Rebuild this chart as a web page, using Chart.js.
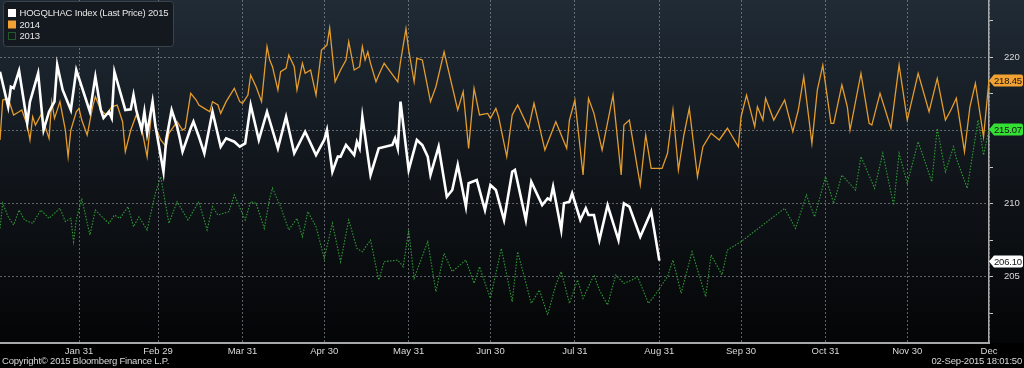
<!DOCTYPE html>
<html>
<head>
<meta charset="utf-8">
<title>HOGQLHAC Index seasonal</title>
<script src="https://cdn.jsdelivr.net/npm/chart.js@4.4.1/dist/chart.umd.min.js"></script>
<style>
    html, body { margin: 0; padding: 0; background: #000; overflow: hidden; }
    #seasonal { display: block; }
</style>
</head>
<body>
<canvas id="seasonal" width="1024" height="368"></canvas>
<script>
// Day of year (leap-year calendar, Feb 29 = 60) and last price
var days2015 = [2, 5, 6, 7, 9, 12, 13, 16, 18, 20, 22, 23, 25, 28, 30, 35, 37, 39, 40, 42, 43, 44, 48, 50, 51, 52,
    54, 55, 56, 58, 59, 62, 63, 65, 67, 68, 69, 72, 73, 75, 77, 80, 83, 85, 88, 90, 92, 94, 97, 100, 104, 107,
    110, 114, 118, 120, 121, 122, 124, 126, 127, 129, 132, 133, 134, 135, 138, 141, 146, 147, 148, 149, 152, 155,
    157, 159, 160, 163, 166, 168, 170, 173, 174, 177, 180, 182, 184, 187, 190, 191, 195, 197, 201, 203, 204, 205,
    208, 209, 211, 212, 215, 217, 218, 220, 222, 225, 229, 231, 233, 237, 241, 244];
var price2015 = [219.02, 216.62, 217.99, 217.90, 219.08, 215.51, 216.97, 218.91, 215.03, 216.28, 216.97, 219.47,
    217.77, 216.40, 219.13, 216.28, 218.68, 216.40, 215.85, 216.28, 215.85, 219.02, 216.40, 216.45, 217.43, 216.40,
    215.03, 216.28, 214.81, 216.97, 215.37, 212.18, 214.35, 216.40, 215.26, 214.46, 213.55, 215.15, 215.60, 214.57,
    213.44, 216.28, 213.89, 214.46, 214.23, 213.89, 214.12, 216.74, 214.35, 216.28, 213.78, 215.94, 213.44, 214.92,
    213.32, 214.01, 214.35, 215.03, 212.18, 213.21, 213.21, 214.01, 213.32, 214.23, 213.78, 215.94, 211.96, 213.78,
    214.01, 214.46, 213.78, 216.97, 212.30, 214.35, 214.01, 213.21, 211.96, 213.89, 210.47, 210.93, 212.64, 209.79,
    211.39, 211.61, 209.56, 211.27, 210.93, 208.88, 212.18, 212.30, 208.88, 211.50, 209.90, 210.36, 210.25, 211.15,
    208.20, 210.02, 210.13, 210.70, 208.88, 209.68, 209.22, 209.22, 207.51, 209.90, 207.51, 210.02, 209.79, 207.74,
    209.45, 206.10];

var days2014 = [2, 3, 5, 7, 9, 10, 12, 13, 14, 15, 17, 18, 20, 21, 22, 24, 26, 27, 28, 30, 31, 32, 34, 36, 37, 39,
    41, 43, 45, 47, 48, 50, 52, 54, 56, 58, 59, 61, 63, 64, 67, 69, 70, 72, 74, 75, 77, 79, 80, 82, 83, 85, 88, 90,
    91, 93, 94, 96, 98, 100, 101, 102, 104, 105, 107, 108, 110, 111, 113, 114, 116, 118, 120, 122, 123, 125, 127,
    129, 130, 132, 134, 135, 136, 137, 138, 140, 141, 143, 148, 149, 151, 152, 154, 155, 157, 160, 162, 165, 170,
    172, 174, 176, 178, 181, 182, 184, 185, 188, 190, 192, 196, 198, 202, 206, 210, 211, 213, 216, 218, 220, 223,
    227, 230, 231, 233, 237, 239, 241, 245, 247, 249, 251, 253, 255, 258, 260, 263, 266, 269, 273, 274, 276, 279,
    280, 282, 283, 286, 290, 293, 295, 297, 300, 302, 304, 307, 308, 311, 313, 314, 318, 321, 322, 325, 329, 332,
    335, 339, 343, 346, 349, 351, 353, 356, 358, 360, 363, 365];
var price2014 = [214.35, 217.08, 217.20, 216.06, 216.28, 216.40, 215.37, 214.35, 215.94, 215.37, 216.06, 215.60,
    214.46, 216.97, 215.83, 216.97, 215.03, 213.21, 215.03, 216.28, 216.51, 215.71, 214.69, 216.62, 217.31, 216.40,
    216.06, 216.62, 216.74, 215.60, 213.55, 215.03, 216.06, 215.15, 213.21, 216.97, 215.26, 214.35, 213.89, 214.81,
    215.60, 215.03, 215.15, 217.54, 217.08, 216.74, 216.51, 216.28, 216.97, 216.74, 216.17, 216.97, 217.88, 216.97,
    216.86, 217.42, 218.79, 217.99, 216.97, 220.73, 219.82, 219.36, 217.77, 219.02, 219.25, 220.16, 219.36, 217.77,
    219.59, 218.91, 219.13, 217.42, 220.50, 220.84, 222.00, 218.33, 219.13, 219.82, 221.07, 219.13, 219.36, 220.73,
    219.82, 220.38, 219.59, 218.33, 218.79, 219.59, 218.33, 219.70, 221.95, 220.50, 218.33, 219.93, 219.82, 216.97,
    217.99, 220.38, 216.40, 217.65, 213.78, 217.88, 216.06, 216.17, 215.83, 216.51, 215.94, 213.21, 216.06, 216.74,
    215.15, 216.86, 213.66, 215.60, 213.78, 215.71, 217.08, 211.96, 217.20, 216.17, 213.66, 217.42, 211.96, 215.37,
    215.71, 211.27, 214.69, 212.41, 212.41, 213.44, 216.40, 212.30, 214.69, 216.51, 211.84, 213.89, 214.81, 214.35,
    215.15, 213.89, 215.94, 217.42, 215.26, 216.62, 215.71, 217.20, 215.71, 217.08, 214.92, 216.40, 218.67, 214.12,
    217.77, 219.47, 215.49, 215.49, 218.11, 216.62, 215.03, 218.90, 215.49, 215.37, 217.54, 215.15, 219.47, 215.71,
    218.90, 216.28, 218.56, 215.71, 216.40, 217.20, 213.55, 216.62, 218.22, 214.57, 218.45];

var days2013 = [2, 3, 5, 7, 9, 11, 14, 17, 20, 24, 26, 28, 29, 30, 32, 35, 37, 40, 42, 44, 46, 49, 51, 53, 56, 59,
    61, 64, 67, 71, 75, 78, 80, 82, 86, 88, 92, 94, 96, 99, 101, 102, 105, 108, 111, 113, 115, 118, 121, 124, 127,
    130, 133, 135, 138, 141, 143, 148, 150, 152, 154, 159, 162, 165, 168, 173, 176, 178, 179, 182, 186, 190, 192,
    197, 200, 203, 206, 208, 211, 214, 216, 220, 222, 225, 228, 231, 234, 236, 240, 242, 247, 249, 252, 256, 261,
    263, 267, 269, 274, 290, 294, 298, 301, 305, 308, 311, 316, 318, 323, 326, 330, 332, 335, 339, 344, 346, 349,
    352, 353, 357, 361, 363, 365];
var price2013 = [208.31, 210.02, 209.10, 208.54, 209.56, 208.88, 208.65, 209.56, 208.99, 209.68, 208.77, 208.99,
    207.40, 208.88, 210.36, 207.85, 209.56, 208.99, 208.65, 209.22, 208.99, 209.79, 208.42, 209.10, 208.20, 210.70,
    211.84, 208.65, 210.13, 208.88, 210.13, 208.20, 209.79, 209.22, 209.45, 210.59, 208.88, 210.13, 210.02, 208.31,
    210.36, 211.05, 209.79, 208.20, 208.99, 207.74, 209.45, 208.42, 206.26, 208.65, 206.03, 208.88, 206.94, 206.71,
    207.51, 204.78, 206.03, 206.14, 205.69, 208.20, 204.90, 207.40, 203.98, 206.60, 205.35, 206.14, 204.55, 205.69,
    205.12, 203.53, 206.94, 203.29, 206.71, 203.18, 204.09, 202.39, 204.44, 205.35, 203.18, 204.78, 203.52, 205.12,
    204.09, 203.07, 205.12, 204.55, 204.78, 205.01, 203.18, 203.64, 205.01, 206.14, 203.87, 206.71, 203.64, 206.49,
    205.12, 206.83, 207.40, 209.68, 208.31, 210.59, 209.10, 211.84, 210.02, 211.95, 210.93, 213.21, 211.05, 213.44,
    209.90, 213.44, 211.39, 214.23, 211.50, 215.15, 212.18, 213.89, 213.10, 211.05, 215.72, 213.32, 215.07];

var seriesLabels = ['HOGQLHAC Index (Last Price) 2015', '2014', '2013'];
var tickDays = [31, 60, 91, 121, 152, 182, 213, 244, 274, 305, 335, 365];
var tickLabels = ['Jan 31', 'Feb 29', 'Mar 31', 'Apr 30', 'May 31', 'Jun 30', 'Jul 31', 'Aug 31', 'Sep 30', 'Oct 31', 'Nov 30', 'Dec'];
var priceTicks = [202.5, 205, 207.5, 210, 212.5, 215, 217.5, 220, 222.5];
var footerLeft = 'Copyright\u00a9 2015 Bloomberg Finance L.P.';
var footerRight = '02-Sep-2015 18:01:50';

(function() {
    function SeasonalChart() {
        var that = this,
            fontFamily = '"Liberation Sans", Arial, sans-serif',
            fontSize = 9.5,
            textColor = '#d9d9d9',
            gridColor = 'rgba(150, 156, 162, 0.6)',
            lineColors = ['#ffffff', '#e39c2d', '#2f9b35'],
            tagColors = ['#ffffff', '#f2a232', '#33e033'];

        /**
         * Init class.
         */
        this.init = function() {
            this.chart = new Chart(document.getElementById('seasonal').getContext('2d'), {
                type: 'line',
                data: {
                    datasets: [
                        this.buildDataset(0, days2015, price2015, 2.6, []),
                        this.buildDataset(1, days2014, price2014, 1.3, []),
                        this.buildDataset(2, days2013, price2013, 1.1, [1.5, 1.5])
                    ]
                },
                options: this.buildOptions(),
                plugins: [this.decorations]
            });
        };

        /**
         * Pair day numbers with prices.
         * @return {Object}
         */
        this.buildDataset = function(index, days, prices, width, dash) {
            return {
                label: seriesLabels[index],
                data: days.map(function(day, i) {
                    return {x: day, y: prices[i]};
                }),
                borderColor: lineColors[index],
                borderWidth: width,
                borderDash: dash,
                pointRadius: 0,
                tension: 0,
                fill: false
            };
        };

        this.buildOptions = function() {
            var tickFont = {family: fontFamily, size: fontSize};

            return {
                responsive: false,
                animation: false,
                events: [],
                layout: {padding: 0},
                plugins: {
                    legend: {display: false},
                    tooltip: {enabled: false}
                },
                scales: {
                    x: {
                        type: 'linear',
                        min: 2,
                        max: 365,
                        afterBuildTicks: function(scale) {
                            scale.ticks = tickDays.map(function(day) { return {value: day}; });
                        },
                        afterFit: function(scale) {
                            scale.height = 25;
                            scale.paddingLeft = 0;
                            scale.paddingRight = 0;
                        },
                        ticks: {
                            autoSkip: false,
                            maxRotation: 0,
                            padding: 3,
                            color: textColor,
                            font: tickFont,
                            callback: function(value) {
                                return tickLabels[tickDays.indexOf(value)];
                            }
                        },
                        grid: {color: gridColor, lineWidth: 1, drawTicks: false},
                        border: {color: '#a8a8a8', width: 2, dash: [2, 2]}
                    },
                    y: {
                        type: 'linear',
                        position: 'right',
                        min: 200.47,
                        max: 223.92,
                        afterBuildTicks: function(scale) {
                            scale.ticks = priceTicks.map(function(v) { return {value: v}; });
                        },
                        afterFit: function(scale) {
                            scale.width = 35;
                            scale.paddingTop = 0;
                            scale.paddingBottom = 0;
                        },
                        ticks: {
                            padding: 11,
                            color: textColor,
                            font: tickFont,
                            callback: function(value) {
                                return value % 5 === 0 ? String(value) : '';
                            }
                        },
                        grid: {
                            color: function(ctx) {
                                return ctx.tick && ctx.tick.value % 5 === 0 ? gridColor : 'transparent';
                            },
                            lineWidth: 1,
                            drawTicks: true,
                            tickLength: 4,
                            tickColor: '#c8c8c8',
                            tickBorderDash: []
                        },
                        border: {color: '#a8a8a8', width: 1.5, dash: [2, 2]}
                    }
                }
            };
        };

        /**
         * Background, legend, last value tags and footer.
         */
        this.decorations = {
            id: 'decorations',
            beforeDraw: function(chart) {
                var ctx = chart.ctx,
                    area = chart.chartArea,
                    gradient = ctx.createLinearGradient(0, 0, 0, area.bottom);

                gradient.addColorStop(0, '#202b36');
                gradient.addColorStop(0.45, '#12171d');
                gradient.addColorStop(1, '#040506');
                ctx.save();
                ctx.fillStyle = '#000';
                ctx.fillRect(0, 0, chart.width, chart.height);
                ctx.fillStyle = gradient;
                ctx.fillRect(0, 0, chart.width, area.bottom);
                ctx.restore();
            },
            afterDraw: function(chart) {
                that.drawTags(chart);
                that.drawLegend(chart);
                that.drawFooter(chart);
            }
        };

        this.drawTags = function(chart) {
            var ctx = chart.ctx,
                yScale = chart.scales.y,
                x = chart.chartArea.right;

            ctx.save();
            ctx.font = fontSize + 'px ' + fontFamily;
            ctx.letterSpacing = '-0.2px';
            ctx.textBaseline = 'middle';
            chart.data.datasets.forEach(function(dataset, i) {
                var last = dataset.data[dataset.data.length - 1].y,
                    y = Math.round(yScale.getPixelForValue(last)) + 0.5;

                ctx.fillStyle = tagColors[i];
                ctx.beginPath();
                ctx.moveTo(x, y);
                ctx.lineTo(x + 5, y - 6);
                ctx.lineTo(x + 32, y - 6);
                ctx.quadraticCurveTo(x + 34, y - 6, x + 34, y - 4);
                ctx.lineTo(x + 34, y + 4);
                ctx.quadraticCurveTo(x + 34, y + 6, x + 32, y + 6);
                ctx.lineTo(x + 5, y + 6);
                ctx.closePath();
                ctx.fill();
                ctx.fillStyle = '#141414';
                ctx.fillText(last.toFixed(2), x + 5, y + 0.5);
            });
            ctx.restore();
        };

        this.drawLegend = function(chart) {
            var ctx = chart.ctx;

            ctx.save();
            ctx.fillStyle = '#141920';
            ctx.strokeStyle = '#3d434a';
            ctx.lineWidth = 1;
            ctx.beginPath();
            ctx.roundRect(3.5, 1.5, 170, 45, 3);
            ctx.fill();
            ctx.stroke();

            ctx.font = fontSize + 'px ' + fontFamily;
            ctx.letterSpacing = '-0.2px';
            ctx.textBaseline = 'middle';
            chart.data.datasets.forEach(function(dataset, i) {
                var rowY = 13 + i * 11.5;

                if (i === 2) {
                    ctx.strokeStyle = lineColors[i];
                    ctx.setLineDash([1, 1]);
                    ctx.strokeRect(8.5, rowY - 3.5, 7, 7);
                    ctx.setLineDash([]);
                } else {
                    ctx.fillStyle = i === 0 ? '#ffffff' : '#f2a232';
                    ctx.fillRect(8, rowY - 4, 8, 8);
                }
                ctx.fillStyle = '#e6e6e6';
                ctx.fillText(dataset.label, 19.5, rowY + 0.5);
            });
            ctx.restore();
        };

        this.drawFooter = function(chart) {
            var ctx = chart.ctx;

            ctx.save();
            ctx.font = fontSize + 'px ' + fontFamily;
            ctx.letterSpacing = '-0.2px';
            ctx.fillStyle = textColor;
            ctx.textBaseline = 'middle';
            ctx.textAlign = 'left';
            ctx.fillText(footerLeft, 2, 361);
            ctx.textAlign = 'right';
            ctx.fillText(footerRight, 1022, 361);
            ctx.restore();
        };
    }

    var seasonalChart = new SeasonalChart();
    seasonalChart.init();
}());
</script>
</body>
</html>
